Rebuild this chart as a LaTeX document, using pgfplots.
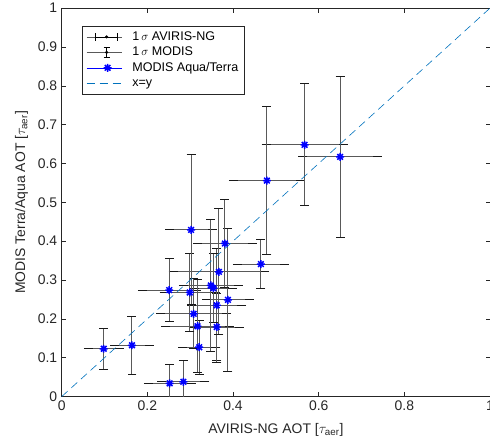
\documentclass[border=0pt]{standalone}
\usepackage{pgfplots}
\pgfplotsset{compat=1.18}
\usepackage{pgfplotstable}
\usepackage{fontspec}
\setmainfont{Liberation Sans}
\definecolor{mblue}{rgb}{0,0.447,0.741}
\definecolor{axgray}{rgb}{0.15,0.15,0.15}
\pgfdeclareplotmark{mstar}{%
  \pgfpathmoveto{\pgfqpoint{-\pgfplotmarksize}{0pt}}\pgfpathlineto{\pgfqpoint{\pgfplotmarksize}{0pt}}%
  \pgfpathmoveto{\pgfqpoint{0pt}{-\pgfplotmarksize}}\pgfpathlineto{\pgfqpoint{0pt}{\pgfplotmarksize}}%
  \pgfpathmoveto{\pgfqpoint{-0.7071\pgfplotmarksize}{-0.7071\pgfplotmarksize}}\pgfpathlineto{\pgfqpoint{0.7071\pgfplotmarksize}{0.7071\pgfplotmarksize}}%
  \pgfpathmoveto{\pgfqpoint{-0.7071\pgfplotmarksize}{0.7071\pgfplotmarksize}}\pgfpathlineto{\pgfqpoint{0.7071\pgfplotmarksize}{-0.7071\pgfplotmarksize}}%
  \pgfusepathqstroke}
\pgfplotstableread{
x y ex ey
0.098 0.123 0.036 0.053
0.164 0.132 0.040 0.075
0.252 0.034 0.050 0.048
0.284 0.038 0.050 0.055
0.321 0.127 0.039 0.069
0.317 0.181 0.074 0.120
0.362 0.179 0.052 0.087
0.308 0.213 0.077 0.090
0.362 0.235 0.058 0.147
0.388 0.249 0.050 0.184
0.299 0.268 0.060 0.100
0.251 0.274 0.063 0.081
0.354 0.279 0.045 0.088
0.348 0.286 0.064 0.170
0.367 0.321 0.107 0.162
0.465 0.341 0.055 0.063
0.381 0.394 0.064 0.114
0.302 0.429 0.050 0.193
0.479 0.556 0.078 0.190
0.567 0.648 0.090 0.157
0.650 0.617 0.087 0.207
}\data
\begin{document}
\begin{tikzpicture}[trim axis right]
\begin{axis}[
  scale only axis, width=430pt, height=390pt,
  xmin=0, xmax=1, ymin=0, ymax=1,
  xtick={0,0.2,0.4,0.6,0.8,1},
  ytick={0,0.1,0.2,0.3,0.4,0.5,0.6,0.7,0.8,0.9,1},
  /pgf/number format/assume math mode=true,
  ticklabel style={font=\fontsize{14}{16}\selectfont, text=axgray},
  yticklabel style={xshift=-1pt},
  xticklabel style={yshift=-1pt},
  label style={font=\fontsize{14}{16}\selectfont, text=axgray},
  ylabel style={yshift=3pt},
  xlabel style={yshift=-6pt},
  axis line style={axgray, line width=0.5pt},
  tick style={axgray, line width=0.5pt},
  major tick length=4.5pt,
  xlabel={AVIRIS-NG AOT [$\tau_{\mathrm{aer}}$]},
  ylabel={MODIS Terra/Aqua AOT [$\tau_{\mathrm{aer}}$]},
  legend cell align=left,
  legend style={at={(rel axis cs:0.0465,0.954)}, anchor=north west,
    draw=axgray, line width=0.5pt, font=\fontsize{12.6}{14}\selectfont,
    inner xsep=4.5pt, inner ysep=3pt, column sep=9pt, row sep=0pt,
    nodes={inner sep=1.5pt, text height=9.5pt, text depth=3pt}},
]
\addplot[black!65, only marks, mark=none,
  legend image code/.code={
    \path (0pt,0pt) -- (35pt,0pt);
    \draw[black, line width=0.8pt] (9pt,0pt) -- (31pt,0pt)
      (9pt,-4pt) -- (9pt,4pt) (31pt,-4pt) -- (31pt,4pt);
    \fill[black] (20pt,0pt) circle (1.3pt);},
  error bars/.cd, x dir=both, x explicit,
  error bar style={line width=1pt, black!65},
  error mark options={black!90, line width=1pt, mark size=4.5pt}]
  table[x=x, y=y, x error=ex]{\data};
\addlegendentry{1\,$\sigma$ AVIRIS-NG}
\addplot[black!65, only marks, mark=none,
  legend image code/.code={
    \path (0pt,0pt) -- (35pt,0pt);
    \draw[black, line width=0.8pt] (20pt,-5pt) -- (20pt,5pt)
      (17pt,-5pt) -- (23pt,-5pt) (17pt,5pt) -- (23pt,5pt);
    \fill[black] (20pt,0pt) circle (1.3pt);},
  error bars/.cd, y dir=both, y explicit,
  error bar style={line width=1pt, black!65},
  error mark options={rotate=90, black!90, line width=1pt, mark size=4.5pt}]
  table[x=x, y=y, y error=ey]{\data};
\addlegendentry{1\,$\sigma$ MODIS}
\addplot[only marks, color=blue, mark=mstar, mark size=4pt,
  mark options={line width=1.5pt},
  legend image code/.code={
    \path (0pt,0pt) -- (35pt,0pt);
    \begin{scope}[shift={(21pt,0pt)}, line width=1.5pt]
    \pgfuseplotmark{mstar}
    \end{scope}}]
  table[x=x, y=y]{\data};
\addlegendentry{MODIS Aqua/Terra}
\addplot[mblue, line width=0.6pt, dash pattern=on 8pt off 5pt,
  legend image code/.code={
    \draw (0pt,0pt) -- (35pt,0pt);}]
  coordinates {(0,0) (1,1)};
\addlegendentry{x=y}
\end{axis}
\path ([xshift=-62pt]current axis.south west);
\end{tikzpicture}
\end{document}
